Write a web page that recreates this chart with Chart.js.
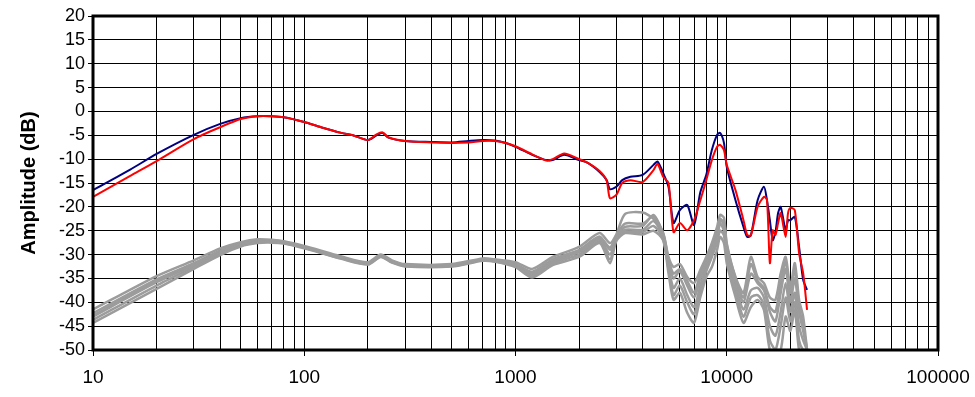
<!DOCTYPE html>
<html>
<head>
<meta charset="utf-8">
<script src="https://cdn.jsdelivr.net/npm/chart.js@4.4.1/dist/chart.umd.min.js"></script>
<style>
  html, body { margin: 0; padding: 0; background: #fff; }
  #wrap { width: 975px; height: 397px; position: relative; }
</style>
</head>
<body>
<div id="wrap"><canvas id="fr"></canvas></div>
<script>
// Frequency points (Hz) for the two measured channels
const freqs = [10, 15, 20, 30, 40, 50, 60, 70, 80, 100, 120, 150, 170, 200, 220, 235, 250, 300, 400, 500,
  600, 700, 800, 900, 1000, 1200, 1400, 1500, 1700, 2000, 2200, 2500, 2700, 2800, 3000, 3200, 3500, 4000,
  4500, 4700, 5000, 5300, 5600, 6000, 6500, 7000, 7500, 8000, 8500, 9000, 9300, 9700, 10000, 11000, 12000,
  12500, 13000, 14000, 15000, 15500, 16000, 16500, 17000, 17500, 18000, 19000, 19500, 20000, 21000, 22000,
  23000, 24000];

const blueDb = [-16.5, -12.2, -8.9, -4.9, -2.6, -1.4, -1.0, -1.0, -1.2, -2.2, -3.3, -4.5, -5.0, -6.0, -5.0, -4.5,
  -5.5, -6.2, -6.4, -6.5, -6.2, -6.0, -6.1, -6.6, -7.4, -9.1, -10.2, -10.2, -9.1, -10.2, -10.8, -12.7, -14.4,
  -16.3, -15.8, -14.4, -13.7, -13.3, -11.2, -10.5, -12.9, -15.8, -23.4, -20.7, -19.6, -23.8, -16.9, -13.3,
  -8.1, -4.9, -4.5, -6.6, -11.6, -18.6, -24.2, -26.3, -26.0, -18.6, -15.8, -18.6, -22.8, -27.0, -25.3, -21.3,
  -20.0, -24.9, -22.8, -22.8, -22.1, -28.4, -35.3, -37.4];

const redDb = [-17.9, -13.5, -10.4, -5.8, -3.3, -1.6, -1.0, -1.0, -1.2, -2.2, -3.3, -4.5, -5.0, -6.0, -4.8, -4.4,
  -5.4, -6.2, -6.5, -6.6, -6.5, -6.2, -6.2, -6.6, -7.3, -9.0, -10.3, -10.0, -8.8, -10.0, -10.8, -12.5, -14.5,
  -18.2, -17.5, -15.0, -14.4, -14.8, -12.3, -11.0, -13.7, -15.0, -25.3, -23.4, -24.9, -22.8, -18.6, -14.4,
  -10.2, -7.4, -7.0, -8.1, -11.2, -16.5, -22.8, -25.9, -26.0, -20.0, -17.9, -18.5, -31.8, -24.9, -25.9, -23.4,
  -21.3, -26.3, -21.3, -20.2, -20.7, -29.7, -33.9, -41.6];

// Frequency points (Hz) for the grey bundle of repeat measurements
const grayFreqs = [10, 20, 30, 40, 50, 60, 70, 80, 100, 150, 200, 230, 260, 300, 500, 700, 800, 1000, 1200,
  1500, 2000, 2500, 2800, 3000, 3300, 4000, 4500, 5000, 5300, 5600, 6000, 6500, 7000, 7500, 8000, 8500,
  9000, 9300, 9700, 10000, 11000, 12000, 13000, 14000, 15000, 16000, 17000, 18000, 19000, 20000, 21000,
  22000, 23000, 24000];

const gray1 = [-41.5, -34.5, -31.2, -28.7, -27.4, -26.8, -26.9, -27.2, -28.2, -30.4, -31.6, -30.0, -31.2, -32.0,
  -32.0, -30.8, -31.0, -31.6, -33.0, -30.5, -28.4, -25.5, -27.6, -25.8, -21.5, -21.2, -22.5, -25.5, -30.5,
  -32.6, -32.0, -34.7, -36.0, -33.2, -30.5, -27.6, -24.2, -21.7, -22.3, -27.6, -34.7, -38.0, -30.5, -34.7,
  -36.0, -39.0, -39.5, -34.0, -30.5, -36.8, -31.8, -39.5, -43.0, -50.0];
const gray2 = [-42.3, -35.2, -31.8, -29.2, -27.7, -27.0, -27.0, -27.3, -28.4, -30.6, -31.8, -30.2, -31.4, -32.2,
  -32.2, -31.0, -31.2, -32.0, -33.6, -31.0, -29.0, -26.2, -29.0, -26.3, -24.2, -24.0, -21.7, -25.8, -31.5,
  -35.0, -33.5, -36.5, -39.0, -35.0, -31.5, -28.5, -25.5, -22.5, -24.0, -28.5, -35.5, -40.0, -34.0, -36.0,
  -37.5, -42.0, -44.0, -38.0, -33.0, -40.0, -35.0, -42.0, -46.0, -50.0];
const gray3 = [-43.0, -35.8, -32.2, -29.5, -27.9, -27.2, -27.2, -27.5, -28.5, -30.7, -31.9, -30.3, -31.5, -32.3,
  -32.3, -31.1, -31.3, -32.2, -34.0, -31.5, -29.5, -26.8, -30.0, -26.5, -24.8, -24.8, -23.0, -26.3, -32.5,
  -37.0, -35.0, -38.5, -41.0, -36.5, -32.5, -29.5, -26.5, -23.5, -25.0, -29.5, -36.5, -41.5, -37.5, -37.0,
  -39.0, -45.0, -47.0, -42.0, -36.0, -42.0, -38.0, -45.0, -48.0, -50.0];
const gray4 = [-43.7, -36.5, -32.6, -29.8, -28.1, -27.4, -27.3, -27.6, -28.6, -30.8, -32.0, -30.4, -31.6, -32.4,
  -32.4, -31.2, -31.4, -32.4, -34.4, -31.8, -30.0, -27.2, -31.0, -26.8, -25.2, -25.3, -24.0, -26.7, -33.0,
  -38.5, -36.5, -40.0, -42.5, -37.5, -33.5, -30.5, -27.5, -25.0, -26.0, -30.5, -37.5, -43.0, -39.0, -38.5,
  -40.5, -48.0, -50.0, -45.0, -39.0, -44.0, -40.0, -48.0, -50.0, -50.0];
const gray5 = [-44.3, -37.2, -33.0, -30.1, -28.3, -27.6, -27.5, -27.7, -28.7, -30.9, -32.1, -30.5, -31.7, -32.5,
  -32.5, -31.3, -31.5, -32.6, -34.8, -32.2, -30.5, -27.6, -31.8, -27.2, -25.5, -25.8, -25.0, -27.0, -33.9,
  -39.5, -38.0, -42.2, -44.3, -38.9, -34.7, -32.6, -29.0, -26.3, -27.6, -31.8, -38.9, -44.3, -41.0, -39.5,
  -41.6, -50.0, -50.0, -50.0, -43.0, -46.0, -41.6, -50.0, -50.0, -50.0];
const gray6 = [-42.8, -35.5, -32.0, -29.3, -27.8, -27.1, -27.1, -27.4, -28.4, -30.6, -31.8, -30.2, -31.4, -32.2,
  -32.2, -31.0, -31.2, -32.1, -33.8, -31.2, -29.2, -26.5, -28.5, -26.0, -23.5, -23.5, -22.0, -25.5, -31.0,
  -34.0, -33.0, -35.5, -38.0, -34.0, -31.0, -28.0, -25.0, -23.0, -23.0, -28.0, -35.0, -39.0, -32.0, -35.5,
  -37.0, -41.0, -42.0, -36.0, -31.5, -38.0, -33.0, -41.0, -45.0, -50.0];
const graySeries = [gray1, gray2, gray3, gray4, gray5, gray6];

// Axis ticks
const xDecades = [10, 100, 1000, 10000, 100000];
const yMin = -50, yMax = 20, yStep = 5;

const FONT = "'Liberation Sans', Arial, sans-serif";

const toPoints = (xs, ys) => xs.map((x, i) => ({ x, y: ys[i] }));
const isDecade = v => xDecades.includes(Math.round(v));

// x grid: 1..9 in every decade, then the final decade
const xGrid = [];
xDecades.slice(0, -1).forEach(d => { for (let m = 1; m <= 9; m++) xGrid.push(d * m); });
xGrid.push(xDecades[xDecades.length - 1]);

const datasets = [
  { label: 'Right', data: toPoints(freqs, redDb), borderColor: '#ff0000', borderWidth: 2 },
  { label: 'Left', data: toPoints(freqs, blueDb), borderColor: '#000080', borderWidth: 2 }
];
graySeries.forEach((s, i) => {
  datasets.push({ label: 'Repeat ' + (i + 1), data: toPoints(grayFreqs, s), borderColor: '#9c9c9c', borderWidth: 2.5 });
});

// Thick frame around the plot area
const framePlugin = {
  id: 'frame',
  afterDraw(chart) {
    const { ctx, chartArea: a } = chart;
    ctx.save();
    ctx.strokeStyle = '#000';
    ctx.lineWidth = 3;
    ctx.strokeRect(a.left, a.top, a.right - a.left, a.bottom - a.top);
    ctx.restore();
  }
};

new Chart(document.getElementById('fr'), {
  type: 'line',
  data: { datasets },
  options: {
    responsive: true,
    maintainAspectRatio: false,
    animation: false,
    devicePixelRatio: 1,
    layout: { padding: { left: 0, top: 16, right: 37, bottom: 0 } },
    elements: {
      point: { radius: 0 },
      line: { tension: 0.25, fill: false }
    },
    plugins: {
      legend: { display: false },
      tooltip: { enabled: false }
    },
    scales: {
      x: {
        type: 'logarithmic',
        min: 10,
        max: 100000,
        afterBuildTicks: scale => { scale.ticks = xGrid.map(v => ({ value: v, major: isDecade(v) })); },
        afterFit: scale => { scale.height = 47; scale.paddingLeft = 0; scale.paddingRight = 0; },
        border: { display: false },
        grid: {
          color: '#000',
          lineWidth: 1,
          tickLength: 6,
          tickColor: ctx => (ctx.tick && isDecade(ctx.tick.value)) ? '#000' : 'rgba(0,0,0,0)'
        },
        ticks: {
          autoSkip: false,
          maxRotation: 0,
          padding: 10,
          color: '#000',
          font: { family: FONT, size: 19 },
          callback: v => isDecade(v) ? String(Math.round(v)) : ''
        }
      },
      y: {
        min: yMin,
        max: yMax,
        afterFit: scale => { scale.width = 93; scale.paddingTop = 0; scale.paddingBottom = 0; },
        border: { display: false },
        grid: { color: '#000', lineWidth: 1, tickLength: 5 },
        ticks: {
          stepSize: yStep,
          autoSkip: false,
          padding: 3,
          color: '#000',
          font: { family: FONT, size: 18 }
        },
        title: {
          display: true,
          text: 'Amplitude (dB)',
          color: '#000',
          font: { family: FONT, size: 20, weight: 'bold' },
          padding: { top: 17, bottom: 0 }
        }
      }
    }
  },
  plugins: [framePlugin]
});
</script>
</body>
</html>
